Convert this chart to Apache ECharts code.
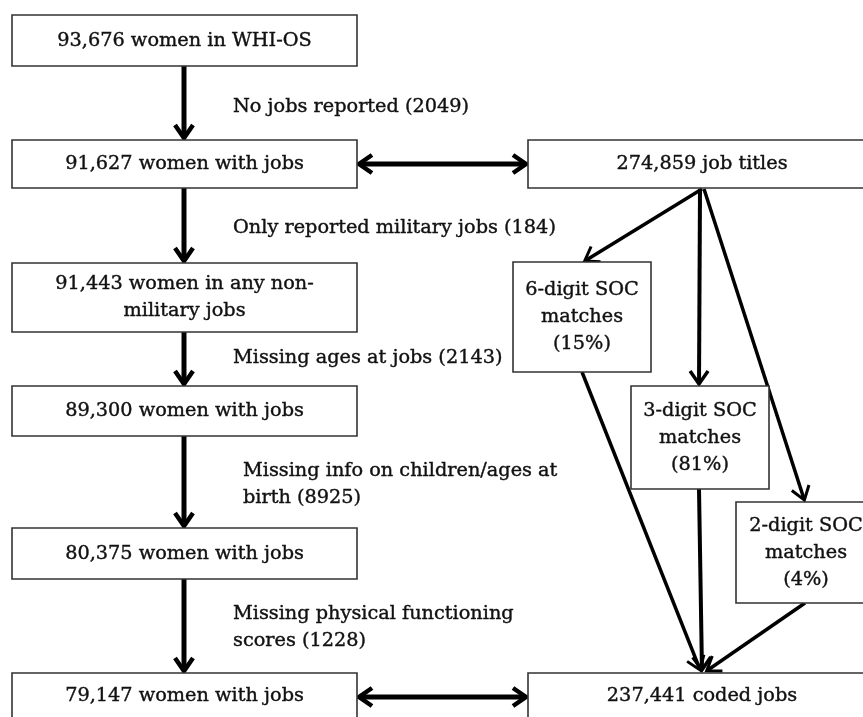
<!DOCTYPE html>
<html>
<head>
<meta charset="utf-8">
<script src="https://cdn.jsdelivr.net/npm/echarts@6/dist/echarts.min.js"></script>
<style>
  html, body { margin: 0; padding: 0; background: #fff; }
  #main { width: 863px; height: 717px; }
</style>
</head>
<body>
<div id="main"></div>
<script>
var myChart = echarts.init(document.getElementById('main'));

// box texts (flow steps)
var boxTexts = [
    '93,676 women in WHI-OS',
    '91,627 women with jobs',
    '91,443 women in any non-\nmilitary jobs',
    '89,300 women with jobs',
    '80,375 women with jobs',
    '79,147 women with jobs',
    '274,859 job titles',
    '6-digit SOC\nmatches\n(15%)',
    '3-digit SOC\nmatches\n(81%)',
    '2-digit SOC\nmatches\n(4%)',
    '237,441 coded jobs'
];
// box layout: x0, y0, x1, y1 in picture units
var boxRects = [
    [12, 15, 357, 66],
    [12, 140, 357, 188],
    [12, 263, 357, 332],
    [12, 386, 357, 436],
    [12, 528, 357, 579],
    [12, 673, 357, 718],
    [528, 140, 876, 188],
    [513, 262, 651, 372],
    [631, 386, 769, 489],
    [736, 502, 876, 603],
    [528, 673, 876, 718]
];

// exclusion notes
var noteTexts = [
    'No jobs reported (2049)',
    'Only reported military jobs (184)',
    'Missing ages at jobs (2143)',
    'Missing info on children/ages at\nbirth (8925)',
    'Missing physical functioning\nscores (1228)'
];
var notePos = [[233, 107], [233, 228], [233, 358], [243, 484], [233, 627]];

// arrows: from x, y, to x, y, both ends (1) or not (0), line width
var arrows = [
    [184, 66, 184, 140, 0, 5],
    [184, 188, 184, 263, 0, 5],
    [184, 332, 184, 386, 0, 5],
    [184, 436, 184, 528, 0, 5],
    [184, 579, 184, 673, 0, 5],
    [357, 164, 528, 164, 1, 5],
    [357, 697, 528, 697, 1, 5],
    [702, 189, 583, 262, 0, 3.5],
    [700, 189, 699, 386, 0, 4],
    [704, 189, 805, 502, 0, 3.5],
    [582, 372, 701, 672, 0, 3.5],
    [699, 489, 702, 672, 0, 4],
    [805, 603, 705, 672, 0, 3.5]
];

var FONT = '19.3px "DejaVu Serif", serif';

function idx(arr) {
    return arr.map(function (d, i) { return [i]; });
}

function chevron(tip, from, len, half) {
    var dx = tip[0] - from[0], dy = tip[1] - from[1];
    var l = Math.sqrt(dx * dx + dy * dy);
    var ux = dx / l, uy = dy / l;
    var bx = tip[0] - ux * len, by = tip[1] - uy * len;
    return [[bx - uy * half, by + ux * half], [tip[0], tip[1]], [bx + uy * half, by - ux * half]];
}

option = {
    animation: false,
    backgroundColor: '#fff',
    grid: { left: 0, right: 0, top: 0, bottom: 0 },
    xAxis: { type: 'value', min: 0, max: 863, show: false },
    yAxis: { type: 'value', min: 0, max: 717, inverse: true, show: false },
    series: [{
        // arrows
        type: 'custom',
        coordinateSystem: 'cartesian2d',
        data: idx(arrows),
        renderItem: function (params, api) {
            var a = arrows[api.value(0)];
            var p0 = api.coord([a[0], a[1]]);
            var p1 = api.coord([a[2], a[3]]);
            var w = a[5];
            var dx = p1[0] - p0[0], dy = p1[1] - p0[1];
            var l = Math.sqrt(dx * dx + dy * dy);
            var s0 = a[4] ? [p0[0] + dx / l * 4, p0[1] + dy / l * 4] : p0;
            var s1 = [p1[0] - dx / l * 4, p1[1] - dy / l * 4];
            var headStyle = { stroke: '#000', lineWidth: w - 0.5, fill: null, lineJoin: 'miter', miterLimit: 10 };
            var kids = [{
                type: 'line',
                shape: { x1: s0[0], y1: s0[1], x2: s1[0], y2: s1[1] },
                style: { stroke: '#000', lineWidth: w, fill: null }
            }, {
                type: 'polyline',
                shape: { points: chevron([p1[0] - dx / l * 2, p1[1] - dy / l * 2], p0, 13, 9) },
                style: headStyle
            }];
            if (a[4]) {
                kids.push({
                    type: 'polyline',
                    shape: { points: chevron([p0[0] + dx / l * 2, p0[1] + dy / l * 2], p1, 13, 9) },
                    style: headStyle
                });
            }
            return { type: 'group', children: kids };
        }
    }, {
        // boxes
        type: 'custom',
        coordinateSystem: 'cartesian2d',
        data: idx(boxTexts),
        z: 3,
        renderItem: function (params, api) {
            var i = api.value(0);
            var r = boxRects[i];
            var p0 = api.coord([r[0], r[1]]);
            var p1 = api.coord([r[2], r[3]]);
            var cx = (p0[0] + p1[0]) / 2, cy = (p0[1] + p1[1]) / 2;
            return {
                type: 'group',
                children: [{
                    type: 'rect',
                    shape: { x: p0[0], y: p0[1], width: p1[0] - p0[0], height: p1[1] - p0[1] },
                    style: { fill: '#fff', stroke: '#333', lineWidth: 1.6 }
                }, {
                    type: 'text',
                    style: {
                        text: boxTexts[i], x: cx, y: cy, align: 'center', verticalAlign: 'middle',
                        font: FONT, lineHeight: 27, fill: '#111', stroke: '#111', lineWidth: 0.4
                    }
                }]
            };
        }
    }, {
        // notes
        type: 'custom',
        coordinateSystem: 'cartesian2d',
        data: idx(noteTexts),
        renderItem: function (params, api) {
            var i = api.value(0);
            var p = api.coord(notePos[i]);
            return {
                type: 'text',
                style: {
                    text: noteTexts[i], x: p[0], y: p[1], align: 'left', verticalAlign: 'middle',
                    font: FONT, lineHeight: 27, fill: '#111', stroke: '#111', lineWidth: 0.4
                }
            };
        }
    }]
};

myChart.setOption(option);
</script>
</body>
</html>
